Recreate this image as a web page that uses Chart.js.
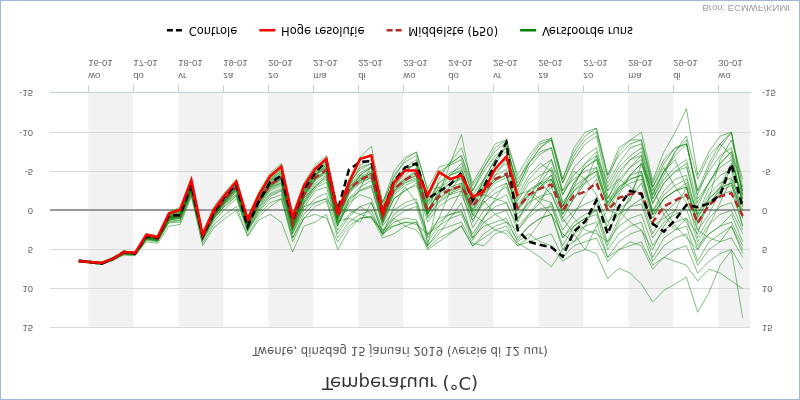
<!DOCTYPE html>
<html lang="nl">
<head>
<meta charset="utf-8">
<title>Temperatuur pluim Twente</title>
<script src="https://cdn.jsdelivr.net/npm/chart.js@4.4.1/dist/chart.umd.min.js"></script>
<style>
  html, body { margin: 0; padding: 0; background: #fff; }
  #wrap { width: 800px; height: 400px; }
  /* de grafiek staat op z'n kop, net als het voorbeeld */
  #pluim { display: block; transform: scaleY(-1); }
</style>
</head>
<body>
<div id="wrap"><canvas id="pluim" width="800" height="400"></canvas></div>
<script>
// Tijden: uren na 16-01 00:00, elke 6 uur
const tijden = [-5, 1, 7, 13, 19, 25, 31, 37, 43, 49, 55, 61, 67, 73, 79, 85, 91, 97, 103, 109,
    115, 121, 127, 133, 139, 145, 151, 157, 163, 169, 175, 181, 187, 193, 199, 205, 211, 217, 223, 229,
    235, 241, 247, 253, 259, 265, 271, 277, 283, 289, 295, 301, 307, 313, 319, 325, 331, 337, 343, 349];

// Labels van de x-as
const dagNamen = ['wo', 'do', 'vr', 'za', 'zo', 'ma', 'di', 'wo', 'do', 'vr', 'za', 'zo', 'ma', 'di', 'wo'];
const datums = ['16-01', '17-01', '18-01', '19-01', '20-01', '21-01', '22-01', '23-01', '24-01', '25-01',
    '26-01', '27-01', '28-01', '29-01', '30-01'];
const grijzeDagen = [0, 2, 4, 6, 8, 10, 12, 14];
const yWaarden = [-15, -10, -5, 0, 5, 10, 15];

// Hoge resolutie (tot 25-01 13 uur)
const hogeResolutie = [6.5, 6.6, 6.7, 6.2, 5.3, 5.4, 3.1, 3.4, 0.4, -0.1, -3.9, 3.1, -0.1, -2.0, -3.7, 1.1, -2.0, -4.4, -5.6, 0.9,
    -3.1, -5.3, -6.6, 0.2, -3.5, -6.6, -7.0, 0.3, -3.5, -5.1, -5.1, -1.9, -4.9, -4.0, -4.5, -1.7, -2.5, -5.3, -6.9, -1.8];

// Controle run
const controle = [6.4, 6.6, 6.8, 6.2, 5.3, 5.5, 3.3, 3.5, 0.6, 0.6, -3.3, 3.3, 0.3, -1.8, -3.3, 2.1, -1.2, -3.6, -4.4, 1.2,
    -2.7, -4.8, -6.3, 0.0, -5.2, -6.2, -6.3, 0.3, -3.7, -5.5, -6.0, -1.5, -2.4, -3.3, -4.8, -1.3, -3.0, -6.0, -8.7, 2.5,
    4.0, 4.4, 4.7, 5.9, 2.7, 1.4, -1.3, 3.0, -0.5, -2.5, -2.1, 1.7, 2.7, 1.2, -0.7, -0.4, -0.9, -2.0, -5.9, -0.3];

// Middelste (P50)
const middelste = [6.5, 6.6, 6.8, 6.2, 5.4, 5.5, 3.3, 3.6, 0.8, 0.6, -3.0, 3.3, 0.4, -1.5, -3.0, 1.6, -1.2, -3.3, -4.2, 1.8,
    -2.0, -4.2, -5.2, 0.8, -2.7, -3.9, -4.6, 0.8, -2.7, -3.9, -4.7, 0.1, -1.8, -2.7, -3.1, -0.5, -2.5, -4.0, -4.7, -0.3,
    -2.0, -2.8, -3.3, 0.0, -1.9, -2.4, -3.5, 0.0, -1.6, -2.1, -2.2, 1.5, -0.5, -1.3, -2.0, 1.6, -0.7, -1.8, -2.2, 0.7];

// Verstoorde runs (ensemble leden)
const run01 = [6.4, 6.5, 6.7, 6.1, 5.2, 5.3, 3.0, 3.3, 0.3, -0.2, -3.8, 3.0, -0.2, -2.2, -3.8, 1.0, -2.2, -4.5, -5.8, 0.7,
    -3.2, -5.4, -6.8, 0.1, -3.8, -6.4, -7.2, 0.0, -3.8, -5.5, -5.8, -2.2, -5.0, -5.8, -6.5, -2.0, -4.0, -6.5, -7.5, -2.5,
    -5.5, -7.2, -8.0, -2.0, -4.5, -6.0, -7.0, -1.5, -4.0, -5.5, -6.5, -0.8, -3.5, -5.0, -6.0, 0.5, -2.8, -4.5, -5.2, 1.0];
const run02 = [6.6, 6.7, 6.9, 6.3, 5.5, 5.6, 3.4, 3.8, 1.0, 0.4, -3.5, 3.2, 0.0, -2.0, -3.5, 1.4, -1.8, -4.0, -5.2, 1.3,
    -2.5, -4.8, -6.0, 0.5, -3.0, -5.8, -6.5, -0.5, -4.5, -6.2, -7.0, -1.0, -3.5, -4.8, -5.5, -1.2, -3.8, -5.8, -8.2, -3.0,
    -6.0, -8.0, -9.0, -3.5, -6.5, -8.5, -9.5, -3.0, -5.5, -7.0, -8.0, -2.5, -5.0, -7.5, -9.0, -1.5, -3.5, -6.0, -7.5, -0.5];
const run03 = [6.5, 6.5, 6.6, 6.0, 5.2, 5.4, 3.0, 3.2, 0.2, -0.4, -4.2, 2.8, -0.5, -2.4, -4.0, 0.9, -2.4, -4.8, -6.0, 0.4,
    -3.5, -5.8, -7.0, 0.0, -4.0, -6.8, -8.2, -1.0, -5.0, -6.8, -7.4, -2.8, -5.5, -6.0, -7.0, -3.2, -5.5, -7.5, -8.8, -2.0,
    -2.5, -1.5, -1.0, 3.5, 2.0, 1.0, 0.0, 4.5, 1.5, -0.5, -1.5, 3.0, 0.5, -1.0, -2.0, 3.5, 1.0, -0.5, -1.0, 2.5];
const run04 = [6.4, 6.6, 6.8, 6.3, 5.4, 5.3, 3.2, 3.4, 0.5, 0.1, -3.6, 3.4, 0.2, -1.8, -3.4, 1.5, -1.5, -3.8, -5.0, 1.6,
    -2.0, -4.5, -5.8, 1.2, -2.0, -4.5, -5.5, 1.5, -3.0, -5.0, -6.2, 0.5, -4.0, -6.2, -8.0, -3.5, -6.0, -8.5, -9.0, -4.5,
    -7.0, -8.8, -9.2, -4.0, -7.5, -9.5, -10.5, -4.5, -7.0, -8.5, -9.0, -3.5, -6.5, -8.0, -8.5, -2.0, -5.5, -8.0, -10.0, -2.0];
const run05 = [6.5, 6.6, 6.8, 6.2, 5.5, 5.6, 3.5, 3.7, 1.0, 0.8, -2.8, 3.5, 0.6, -1.2, -2.8, 1.8, -1.0, -3.0, -3.8, 2.0,
    -1.5, -3.8, -4.8, 1.2, -2.2, -3.5, -4.2, 1.0, -2.5, -3.8, -4.5, 0.3, -1.5, -2.5, -3.0, -0.2, -2.2, -3.8, -4.5, 0.0,
    -1.8, -4.0, -6.5, -1.0, 1.0, 2.5, 3.0, 4.0, 1.0, -2.0, -5.0, 0.5, -0.3, 2.0, 3.5, 5.0, 2.0, -1.0, -4.0, 1.0];
const run06 = [6.6, 6.6, 6.7, 6.1, 5.3, 5.6, 3.6, 3.5, 0.9, 0.7, -3.1, 3.1, 0.5, -1.6, -3.1, 1.7, -1.3, -3.4, -4.4, 1.9,
    -2.2, -4.4, -5.5, 0.6, -3.0, -4.2, -5.0, 0.5, -3.0, -4.2, -5.0, -0.2, -2.0, -3.0, -3.5, -0.8, -3.0, -4.5, -5.2, -0.8,
    -2.5, -3.4, -4.0, -0.5, -2.5, -3.5, -4.5, -0.8, -2.5, -3.5, -4.0, 0.5, -1.5, -2.5, -3.5, 0.8, -1.5, -2.8, -3.5, 0.0];
const run07 = [6.5, 6.7, 6.9, 6.3, 5.5, 5.5, 3.4, 3.7, 1.2, 0.9, -2.6, 3.6, 0.8, -1.0, -2.5, 2.0, -0.8, -2.8, -3.6, 2.3,
    -1.0, -3.2, -4.2, 1.8, -1.5, -3.0, -3.8, 1.5, -2.0, -3.2, -3.8, 1.0, -1.0, -2.0, -2.5, 0.5, -1.5, -2.8, -3.5, 0.5,
    -1.0, -1.8, -2.2, 1.5, 0.0, -0.8, -1.5, 2.5, 0.5, -0.5, -0.8, 3.5, 1.5, 0.5, -0.2, 4.0, 1.8, 0.5, 0.0, 3.0];
const run08 = [6.4, 6.5, 6.6, 6.2, 5.4, 5.4, 3.3, 3.6, 0.7, 0.4, -3.3, 3.2, 0.3, -1.7, -3.3, 1.4, -1.6, -3.7, -4.7, 1.4,
    -2.6, -4.6, -5.6, 0.6, -2.6, -4.0, -4.8, 0.9, -2.8, -4.0, -4.4, 0.2, -2.5, -3.5, -4.2, -0.5, -2.8, -4.0, -4.5, -0.2,
    -2.0, -3.5, -4.5, -0.5, -3.5, -5.5, -6.5, -1.5, -4.5, -6.5, -7.5, -2.0, -5.0, -7.0, -8.5, -2.5, -5.0, -7.0, -8.0, -2.5];
const run09 = [6.5, 6.6, 6.8, 6.3, 5.4, 5.5, 3.3, 3.5, 0.8, 0.5, -3.0, 3.3, 0.5, -1.4, -2.9, 1.8, -1.1, -3.2, -4.0, 2.0,
    -1.8, -4.0, -5.0, 1.0, -2.5, -3.8, -4.5, 1.2, -2.2, -3.5, -4.0, 0.8, -1.2, -2.2, -2.8, 0.2, -2.0, -3.5, -4.2, -0.2,
    -2.2, -1.0, 0.5, 3.0, 4.0, 2.0, -1.0, 2.0, -2.0, -4.5, -6.0, -2.0, -5.0, -6.5, -3.0, 1.5, -0.5, -3.0, -6.0, -2.0];
const run10 = [6.6, 6.7, 6.8, 6.2, 5.5, 5.6, 3.6, 3.9, 1.4, 1.2, -2.4, 3.8, 1.0, -0.8, -2.2, 2.2, -0.5, -2.5, -3.2, 2.6,
    -0.8, -2.8, -3.6, 2.0, -1.2, -2.6, -3.2, 1.8, -1.5, -2.6, -3.2, 1.5, -0.5, -1.5, -2.0, 1.2, -1.0, -2.2, -3.0, 1.0,
    -0.5, -3.5, -5.5, -2.0, -5.0, -4.0, -2.0, 1.5, -0.2, -1.2, -6.0, -3.0, 0.5, 2.5, 1.0, 3.0, -1.5, -6.5, -9.0, -4.0];
const run11 = [6.5, 6.6, 6.8, 6.3, 5.6, 5.7, 3.8, 4.0, 1.5, 1.3, -2.2, 3.9, 1.4, -0.2, -1.5, 2.8, 0.2, -1.5, -2.0, 3.5,
    0.5, -1.0, -1.5, 3.0, 0.8, -0.5, -1.0, 2.8, 0.5, -0.5, -1.0, 3.2, 1.5, 0.5, 0.2, 3.0, 0.8, -0.5, -1.0, 2.5,
    0.8, -0.2, -0.5, 3.5, 1.5, 0.5, 0.0, 4.0, 2.0, 1.0, 0.5, 4.5, 2.5, 1.5, 1.0, 5.0, 3.0, 2.0, 1.5, 4.5];
const run12 = [6.6, 6.6, 6.7, 6.2, 5.5, 5.7, 3.7, 3.9, 1.6, 1.5, -2.0, 4.2, 1.8, 0.5, -0.5, 3.2, 0.8, -0.5, -1.5, 4.0,
    1.0, -0.5, -1.2, 3.5, 1.5, 0.5, 0.0, 3.2, 1.0, 0.0, -0.5, 4.0, 2.0, 1.0, 0.5, 3.8, 1.5, 0.5, 0.0, 3.5,
    2.0, 1.0, 0.5, 5.0, 3.0, 2.0, 1.5, 6.0, 4.0, 3.0, 2.5, 6.5, 4.5, 3.5, 3.0, 7.0, 5.0, 4.0, 3.5, 6.0];
const run13 = [6.4, 6.5, 6.7, 6.1, 5.3, 5.5, 3.5, 3.6, 1.1, 0.9, -2.6, 3.4, 0.8, -1.0, -2.4, 2.2, -0.4, -2.2, -2.8, 2.5,
    -0.5, -1.0, -1.5, 0.5, 0.0, 0.5, 1.0, 2.5, 2.0, 1.5, 1.8, 3.0, 2.0, 0.0, -2.5, 2.2, 0.0, -1.2, -2.0, 1.5,
    -1.5, -3.0, -4.0, 0.5, -2.5, -4.0, -5.0, -0.5, -3.0, -4.5, -5.0, 0.0, -2.5, -4.0, -4.5, 1.0, -1.5, -3.0, -3.5, 2.0];
const run14 = [6.5, 6.6, 6.8, 6.4, 5.7, 5.8, 4.0, 4.2, 2.0, 1.8, -1.8, 4.5, 2.2, 1.0, 0.0, 3.3, 1.2, 0.5, 1.5, 5.3,
    2.0, 1.5, 0.5, 5.0, 2.5, 1.0, 0.8, 3.5, 3.0, 2.0, 1.5, 5.0, 4.0, 3.0, 2.0, 4.5, 3.5, 2.5, 2.0, 4.5,
    4.0, 3.5, 3.0, 6.0, 4.5, 4.0, 3.5, 6.5, 5.0, 4.5, 4.0, 7.0, 6.0, 5.0, 4.5, 8.0, 6.5, 5.5, 5.0, 7.5];
const run15 = [6.5, 6.6, 6.7, 6.2, 5.4, 5.5, 3.4, 3.6, 0.9, 0.6, -2.9, 3.4, 0.6, -1.3, -2.7, 1.9, -0.9, -3.0, -3.5, 2.2,
    -1.0, -3.0, -4.0, 1.5, -1.5, -2.5, -3.0, 2.0, 0.0, -1.0, -1.5, 3.0, 1.0, 0.5, 0.0, 3.5, 2.0, 1.5, 1.0, 4.0,
    3.0, 4.0, 4.5, 6.5, 5.5, 5.0, 5.5, 8.7, 7.4, 8.0, 9.4, 11.7, 10.2, 9.4, 8.5, 13.0, 10.5, 7.0, 5.1, 13.7];
const run16 = [6.4, 6.6, 6.9, 6.4, 5.6, 5.6, 3.7, 3.8, 1.3, 1.0, -2.2, 3.7, 1.0, -0.6, -1.8, 2.6, 0.0, -1.8, -2.5, 3.0,
    0.0, -1.5, -2.2, 2.5, 0.5, -0.5, 0.5, 3.0, 1.5, 1.0, 1.2, 4.5, 2.5, 2.0, 1.5, 4.2, 4.5, 3.0, 2.5, 4.2,
    5.0, 6.0, 7.2, 5.0, 4.0, 3.0, 2.5, 6.0, 5.0, 4.0, 4.5, 7.5, 6.0, 6.5, 7.0, 9.0, 7.5, 8.0, 9.0, 10.0];
const run17 = [6.5, 6.5, 6.7, 6.1, 5.3, 5.4, 3.2, 3.4, 0.6, 0.2, -3.5, 3.0, 0.0, -2.0, -3.6, 1.2, -2.0, -4.2, -5.5, 1.0,
    -2.8, -5.0, -6.2, 0.3, -3.2, -5.5, -6.0, 0.5, -3.5, -5.5, -6.5, -1.5, -4.5, -6.0, -7.0, -2.5, -5.0, -7.0, -8.0, -3.5,
    -6.5, -8.5, -9.0, -3.5, -7.0, -9.0, -10.0, -4.0, -7.5, -9.0, -10.0, -3.8, -7.5, -10.0, -13.0, -4.5, -7.5, -9.5, -10.0, -3.0];
const run18 = [6.6, 6.7, 6.8, 6.2, 5.4, 5.4, 3.3, 3.6, 0.9, 0.6, -3.2, 3.2, 0.3, -1.6, -3.2, 1.5, -1.4, -3.5, -4.5, 1.6,
    -2.4, -4.5, -5.5, 0.4, -2.8, -4.5, -5.5, 0.2, -3.5, -5.0, -6.0, 4.5, -2.0, -6.0, -9.7, -2.5, -5.5, -8.0, -9.0, -4.0,
    -6.0, -7.5, -8.0, -2.5, -4.0, -5.0, -5.5, -1.0, -3.0, -4.0, -4.5, 0.5, -1.5, -2.5, -3.0, 1.5, -1.0, -2.0, -2.5, 2.0];
const run19 = [6.4, 6.5, 6.7, 6.2, 5.4, 5.5, 3.4, 3.5, 0.7, 0.5, -3.0, 3.5, 0.8, -1.0, -2.0, 2.4, 0.5, -1.0, -1.5, 3.5,
    1.0, 0.5, 1.0, 4.0, 2.0, 1.0, 0.8, 3.0, 2.0, 1.5, 1.5, 4.8, 3.5, 2.8, 2.0, 4.6, 3.0, 2.0, 1.5, 3.8,
    2.0, 1.0, 0.5, 4.5, 2.0, 1.0, 0.5, 5.0, 3.0, 2.0, 1.5, 6.0, 3.5, 2.5, 2.0, 6.5, 4.0, 3.0, 2.0, 5.5];
const run20 = [6.5, 6.6, 6.8, 6.2, 5.4, 5.5, 3.3, 3.7, 0.9, 0.7, -2.9, 3.3, 0.5, -1.4, -3.0, 1.7, -1.2, -3.3, -4.2, 1.8,
    -2.0, -4.2, -5.2, 0.8, -2.7, -4.0, -4.8, 0.6, -2.8, -4.0, -5.0, -0.5, -3.0, -4.5, -5.0, -1.0, -4.0, -6.5, -8.5, -3.0,
    -6.0, -8.0, -9.3, -4.0, -8.0, -10.0, -10.5, -4.5, -8.0, -9.0, -9.0, -3.0, -6.0, -8.0, -8.5, -2.5, -6.0, -8.5, -10.0, -1.5];
const run21 = [6.5, 6.6, 6.7, 6.2, 5.4, 5.6, 3.4, 3.6, 0.8, 0.5, -3.2, 3.1, 0.3, -1.7, -3.4, 1.3, -1.5, -3.6, -4.8, 1.2,
    -2.3, -4.6, -5.8, 0.4, -3.2, -4.8, -5.6, 0.0, -3.2, -4.6, -5.4, -0.8, -2.8, -3.8, -4.4, -1.0, -3.2, -5.0, -6.0, -1.2,
    -3.5, -4.5, -5.2, -1.0, -3.0, -4.2, -5.0, -0.5, -2.8, -4.0, -4.5, 0.2, -2.0, -3.2, -4.0, 0.5, -2.0, -3.5, -4.2, -0.5];
const run22 = [6.6, 6.7, 6.9, 6.3, 5.5, 5.5, 3.5, 3.8, 1.1, 0.8, -2.7, 3.5, 0.7, -1.1, -2.6, 2.0, -0.7, -2.7, -3.4, 2.3,
    -1.2, -3.5, -4.5, 1.4, 1.0, 1.5, -1.0, 3.0, -0.5, -3.0, -1.0, 3.5, 1.0, -2.5, -4.5, 0.8, -1.2, 0.5, 1.5, 2.5,
    0.5, -1.0, -4.0, 0.0, -3.0, -6.0, -7.5, -2.0, 0.0, 1.5, 2.5, 5.0, 2.0, 0.0, -3.0, 2.5, 3.5, 4.0, 2.0, 5.0];
const run23 = [6.4, 6.5, 6.6, 6.1, 5.3, 5.4, 3.2, 3.5, 0.6, 0.3, -3.4, 3.0, 0.1, -1.9, -3.5, 1.3, -1.7, -3.9, -5.0, 1.1,
    -2.7, -4.9, -6.0, 0.3, -3.5, -5.2, -6.0, -0.3, -3.8, -5.2, -6.0, -1.2, -3.5, -4.5, -5.2, -1.5, -3.5, -5.5, -6.5, -1.5,
    -4.0, -5.5, -6.5, -2.5, -5.5, -7.0, -8.0, -2.5, -5.0, -6.5, -7.0, -1.5, -4.0, -5.5, -6.5, -1.0, -3.5, -5.5, -6.5, -1.0];
const run24 = [6.5, 6.6, 6.8, 6.2, 5.4, 5.5, 3.3, 3.5, 0.8, 0.6, -3.0, 3.4, 0.5, -1.3, -2.8, 1.8, -1.0, -3.1, -4.0, 1.9,
    -1.8, -3.9, -4.9, 1.1, -2.4, -3.6, -4.3, 1.1, -2.4, -3.6, -4.2, 0.5, -1.6, -2.6, -3.2, 0.0, -2.4, -3.8, -4.6, -0.4,
    -2.6, -3.6, -2.0, 1.0, 3.0, 5.0, 2.0, 0.0, 0.5, -1.5, -3.5, 1.0, -1.5, -2.5, -3.0, 1.8, -1.0, -2.5, -3.2, 0.5];
const run25 = [6.5, 6.5, 6.7, 6.2, 5.4, 5.5, 3.5, 3.6, 1.0, 0.7, -2.8, 3.2, 0.6, -1.2, -2.7, 1.7, -1.1, -3.1, -4.1, 1.9,
    -1.6, -3.0, -4.5, 1.6, -0.5, -2.8, -5.8, -1.0, -4.2, -6.5, -7.5, -2.5, -3.0, -2.0, -3.5, 1.5, -1.5, -4.5, -6.5, -2.0,
    -4.5, -6.0, -5.0, 0.5, -1.5, -3.5, -7.0, -3.5, -6.0, -8.0, -8.5, -3.0, -5.5, -3.0, -1.0, 2.5, 0.5, -2.5, -5.5, -1.5];
const run26 = [6.6, 6.6, 6.8, 6.3, 5.5, 5.6, 3.6, 3.8, 1.2, 1.0, -2.5, 3.6, 1.1, -0.6, -1.9, 2.5, -0.2, -2.0, -2.6, 2.9,
    -0.4, -2.5, -3.0, 2.0, -1.0, -2.0, -1.5, 2.5, 1.0, 2.0, 2.5, 4.5, 3.0, 1.0, -1.0, 3.5, 1.0, -1.5, -3.5, 1.0,
    -1.0, -3.0, -4.5, -0.5, -3.5, -5.5, -6.5, -2.5, -4.0, -3.0, -2.0, 2.0, 1.0, 0.0, 1.5, 4.5, 3.0, 2.0, 0.5, 4.0];
const run27 = [6.4, 6.6, 6.7, 6.1, 5.3, 5.4, 3.2, 3.4, 0.5, 0.2, -3.6, 2.9, 0.0, -2.1, -3.6, 1.2, -1.9, -4.1, -5.3, 1.0,
    -2.9, -5.1, -6.4, -0.2, -3.0, -4.5, -4.0, 1.5, -1.5, -2.5, -3.5, 0.5, -2.5, -4.5, -6.0, -2.0, -2.0, -1.5, -1.0, 2.0,
    0.5, -1.5, -3.0, 1.0, -1.5, -4.0, -5.5, -1.0, -3.5, -5.5, -7.0, -1.5, -4.5, -7.5, -9.5, -4.0, -7.0, -8.5, -7.0, -1.0];
const run28 = [6.5, 6.6, 6.8, 6.2, 5.4, 5.5, 3.4, 3.7, 1.0, 0.8, -2.9, 3.4, 0.6, -1.3, -2.9, 1.7, -1.1, -3.2, -4.1, 2.0,
    -1.9, -4.1, -5.1, 0.9, -2.6, -3.8, -4.7, 0.7, -2.6, -3.8, -4.8, 0.0, -2.2, -3.5, -4.0, 0.5, 1.5, 2.5, 3.0, 4.5,
    3.5, 1.5, -1.0, 2.5, 0.5, -2.0, -4.0, 0.0, -2.5, -4.5, -6.0, -1.0, -3.5, -5.0, -5.5, -0.5, -3.5, -6.0, -7.5, -2.5];
const verstoordeRuns = [run01, run02, run03, run04, run05, run06, run07, run08, run09, run10, run11, run12, run13, run14,
    run15, run16, run17, run18, run19, run20, run21, run22, run23, run24, run25, run26, run27, run28];

// Legenda
const legendaNamen = ['Controle', 'Hoge resolutie', 'Middelste (P50)', 'Verstoorde runs'];

const kleuren = {
    controle: '#000000',
    hoge: '#ff0000',
    middelste: '#b22a2a',
    runs: 'rgba(0, 128, 0, 0.5)',
    runsLegenda: '#008000'
};

function punten(waarden) {
    return waarden.map((v, k) => ({ x: tijden[k], y: v }));
}

const datasets = [
    {
        label: 'Hoge resolutie', data: punten(hogeResolutie),
        borderColor: kleuren.hoge, borderWidth: 2.5, order: 1
    },
    {
        label: 'Controle', data: punten(controle),
        borderColor: kleuren.controle, borderWidth: 2.5, borderDash: [7, 4], order: 2
    },
    {
        label: 'Middelste (P50)', data: punten(middelste),
        borderColor: kleuren.middelste, borderWidth: 2.5, borderDash: [7, 4], order: 3
    }
];
verstoordeRuns.forEach((run, k) => {
    datasets.push({
        label: 'Verstoorde run ' + (k + 1), data: punten(run),
        borderColor: kleuren.runs, borderWidth: 1, order: 4
    });
});

const legendaStijl = [
    { kleur: kleuren.controle, streep: [6, 3] },
    { kleur: kleuren.hoge, streep: [] },
    { kleur: kleuren.middelste, streep: [6, 3] },
    { kleur: kleuren.runsLegenda, streep: [] }
];

// Achtergrond, rand en grijze dagbanden
const achtergrond = {
    id: 'achtergrond',
    beforeDraw(chart) {
        const { ctx, chartArea, scales } = chart;
        ctx.save();
        ctx.fillStyle = '#ffffff';
        ctx.fillRect(0, 0, chart.width, chart.height);
        ctx.fillStyle = '#f2f2f2';
        grijzeDagen.forEach(d => {
            const x1 = Math.max(scales.x.getPixelForValue(d * 24), chartArea.left);
            const x2 = Math.min(scales.x.getPixelForValue((d + 1) * 24), chartArea.right);
            if (x2 > x1) ctx.fillRect(x1, chartArea.top, x2 - x1, chartArea.bottom - chartArea.top);
        });
        ctx.strokeStyle = '#9fb8e0';
        ctx.lineWidth = 1;
        ctx.strokeRect(0.5, 0.5, chart.width - 1, chart.height - 1);
        ctx.restore();
    }
};

const bron = {
    id: 'bron',
    afterDraw(chart) {
        const ctx = chart.ctx;
        ctx.save();
        ctx.font = '9.5px "Liberation Sans", Arial, sans-serif';
        ctx.fillStyle = '#999999';
        ctx.textAlign = 'right';
        ctx.textBaseline = 'middle';
        ctx.fillText('Bron: ECMWF/KNMI', 790, 392);
        ctx.restore();
    }
};

const asFont = { family: '"Liberation Sans", Arial, sans-serif', size: 9.5 };

function yAs(positie, opvulling) {
    return {
        type: 'linear',
        position: positie,
        min: -15,
        max: 15,
        afterBuildTicks: (as) => { as.ticks = yWaarden.map(v => ({ value: v })); },
        afterFit: (as) => { as.width = 50; },
        border: { display: false },
        grid: positie === 'left' ? {
            drawTicks: false,
            color: (c) => c.tick && c.tick.value === 0 ? '#999999' : '#d8d8d8',
            lineWidth: (c) => c.tick && c.tick.value === 0 ? 2 : 1
        } : { display: false, drawTicks: false },
        ticks: {
            padding: opvulling,
            color: '#666666',
            font: asFont,
            callback: (v) => String(v)
        }
    };
}

new Chart(document.getElementById('pluim').getContext('2d'), {
    type: 'line',
    data: { datasets },
    options: {
        responsive: false,
        animation: false,
        devicePixelRatio: 1,
        layout: { padding: { left: 0, right: 0, top: 0, bottom: 18 } },
        elements: { point: { radius: 0 }, line: { tension: 0 } },
        plugins: {
            title: {
                display: true,
                text: 'Temperatuur (°C)',
                color: '#333333',
                font: { family: '"DejaVu Sans", sans-serif', size: 18, weight: 'normal' },
                padding: { top: 8, bottom: 6 }
            },
            subtitle: {
                display: true,
                text: 'Twente, dinsdag 15 januari 2019 (versie di 12 uur)',
                color: '#555555',
                font: { family: '"DejaVu Sans", sans-serif', size: 11.7 },
                padding: { top: 7, bottom: 15.5 }
            },
            legend: {
                position: 'bottom',
                maxHeight: 40,
                labels: {
                    usePointStyle: true,
                    pointStyleWidth: 16,
                    padding: 22,
                    color: '#333333',
                    font: { family: '"DejaVu Sans", sans-serif', size: 11.5 },
                    generateLabels: () => legendaNamen.map((naam, k) => ({
                        text: naam,
                        strokeStyle: legendaStijl[k].kleur,
                        fillStyle: legendaStijl[k].kleur,
                        lineWidth: 2.5,
                        lineDash: legendaStijl[k].streep,
                        pointStyle: 'line',
                        hidden: false,
                        datasetIndex: k
                    }))
                }
            },
            tooltip: { enabled: false }
        },
        scales: {
            x: {
                type: 'linear',
                min: -20.4,
                max: 352.9,
                afterBuildTicks: (as) => { as.ticks = datums.map((d, k) => ({ value: k * 24 })); },
                afterFit: (as) => { as.height = 35; },
                border: { display: true, color: '#c0d0e0' },
                grid: { drawOnChartArea: false, drawTicks: true, tickLength: 8, color: '#c0d0e0' },
                ticks: {
                    autoSkip: false,
                    maxRotation: 0,
                    align: 'start',
                    padding: 2,
                    color: '#666666',
                    font: Object.assign({ lineHeight: 1.45 }, asFont),
                    callback: (v, k) => [dagNamen[k], datums[k]]
                }
            },
            y: yAs('left', 17),
            y2: yAs('right', 12)
        }
    },
    plugins: [achtergrond, bron]
});
</script>
</body>
</html>
